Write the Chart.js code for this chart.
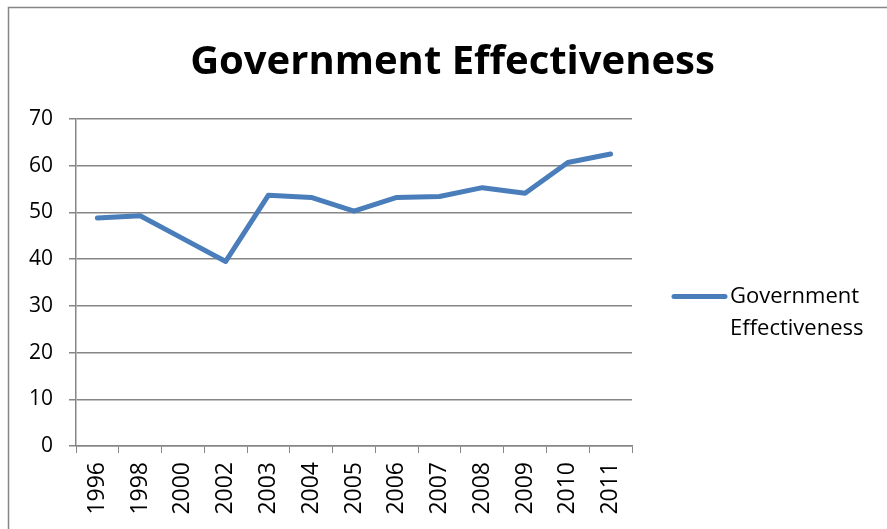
<!DOCTYPE html>
<html>
<head>
<meta charset="utf-8">
<script src="https://cdn.jsdelivr.net/npm/chart.js@4"></script>
<style>
  html, body { margin: 0; padding: 0; background: #fff; }
  #wrap { width: 887px; height: 529px; position: relative; }
</style>
</head>
<body>
<div id="wrap"><canvas id="chart"></canvas></div>
<script>
var years = ["1996", "1998", "2000", "2002", "2003", "2004", "2005", "2006", "2007", "2008", "2009", "2010", "2011"];
var effectiveness = [48.8, 49.3, 44.4, 39.5, 53.7, 53.2, 50.3, 53.2, 53.4, 55.3, 54.1, 60.7, 62.5];
var seriesName = "Government Effectiveness";
var legendLines = ["Government", "Effectiveness"];

var lineBlue = "#4a7ebb";
var axisGray = "#868686";
var fontFace = "'Open Sans', sans-serif";

// white page, frame on the left and top edge like the excel export
var framePlugin = {
    id: "frame",
    beforeDraw: function (chart) {
        var ctx = chart.ctx;
        ctx.save();
        ctx.fillStyle = "#fff";
        ctx.fillRect(0, 0, chart.width, chart.height);
        ctx.strokeStyle = axisGray;
        ctx.lineWidth = 1.5;
        ctx.beginPath();
        ctx.moveTo(8.5, chart.height);
        ctx.lineTo(8.5, 7.5);
        ctx.lineTo(chart.width, 7.5);
        ctx.stroke();
        ctx.restore();
    }
};

// legend on the right with the label wrapped on two lines
var sideLegend = {
    id: "sideLegend",
    afterDraw: function (chart) {
        var ctx = chart.ctx;
        var ds = chart.data.datasets[0];
        var midY = (chart.chartArea.top + chart.chartArea.bottom) / 2 + 14;
        var x0 = chart.chartArea.right + 42;
        ctx.save();
        ctx.strokeStyle = ds.borderColor;
        ctx.lineWidth = 5;
        ctx.lineCap = "round";
        ctx.beginPath();
        ctx.moveTo(x0, midY);
        ctx.lineTo(x0 + 51, midY);
        ctx.stroke();
        ctx.fillStyle = "#000";
        ctx.font = "22px " + fontFace;
        ctx.textBaseline = "middle";
        ctx.textAlign = "left";
        for (var i = 0; i < legendLines.length; i++) {
            ctx.fillText(legendLines[i], x0 + 56, midY + i * 32);
        }
        ctx.restore();
    }
};

new Chart(document.getElementById("chart"), {
    type: "line",
    data: {
        labels: years,
        datasets: [{
            label: seriesName,
            data: effectiveness,
            borderColor: lineBlue,
            backgroundColor: lineBlue,
            borderWidth: 5,
            borderCapStyle: "round",
            borderJoinStyle: "round",
            pointRadius: 0,
            pointHoverRadius: 0,
            tension: 0,
            fill: false
        }]
    },
    options: {
        responsive: true,
        maintainAspectRatio: false,
        animation: false,
        layout: {
            padding: { left: 18, right: 0, top: 0, bottom: 0 }
        },
        plugins: {
            legend: { display: false },
            tooltip: { enabled: false },
            title: {
                display: true,
                text: seriesName,
                color: "#000",
                font: { family: fontFace, size: 40, weight: "bold", lineHeight: 1.2 },
                padding: { top: 39, bottom: 32 }
            }
        },
        scales: {
            x: {
                offset: true,
                grid: {
                    offset: true,
                    drawOnChartArea: false,
                    drawTicks: true,
                    tickLength: 7,
                    color: axisGray
                },
                border: { color: axisGray, width: 1.5 },
                ticks: {
                    color: "#000",
                    font: { family: fontFace, size: 23 },
                    minRotation: 90,
                    maxRotation: 90,
                    padding: 9,
                    autoSkip: false
                },
                afterFit: function (scale) { scale.height = 83; }
            },
            y: {
                min: 0,
                max: 70,
                ticks: {
                    stepSize: 10,
                    color: "#000",
                    font: { family: fontFace, size: 21 },
                    padding: 16
                },
                grid: {
                    color: axisGray,
                    lineWidth: 1.5,
                    drawTicks: true,
                    tickLength: 7
                },
                border: { color: axisGray, width: 1.5 },
                afterFit: function (scale) { scale.width = 58; }
            },
            // empty right axis that keeps room for the legend
            legendRoom: {
                type: "linear",
                position: "right",
                min: 0,
                max: 70,
                ticks: { display: false },
                grid: { display: false, drawOnChartArea: false },
                border: { display: false },
                afterFit: function (scale) { scale.width = 255; }
            }
        }
    },
    plugins: [framePlugin, sideLegend]
});
</script>
</body>
</html>
